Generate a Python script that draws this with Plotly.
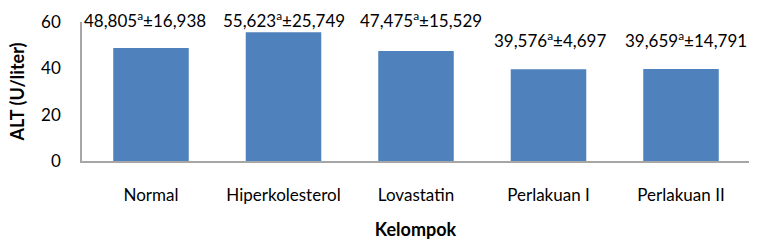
import plotly.graph_objects as go

categories = ["Normal", "Hiperkolesterol", "Lovastatin", "Perlakuan I", "Perlakuan II"]
means = [48.805, 55.623, 47.475, 39.576, 39.659]
sds = [16.938, 25.749, 15.529, 4.697, 14.791]
notation = ["a", "a", "a", "a", "a"]
# label rows in paper coordinates (style only)
label_rows = [1.02, 1.02, 1.02, 0.875, 0.875]
label_dx = [-6, 0, 5, 1, 5]

FONT = "Lato"

fig = go.Figure()
fig.add_trace(go.Bar(
    x=categories, y=means,
    marker=dict(color="#4F81BD", line=dict(width=0)),
    width=0.57,
))

def fmt(v):
    return f"{v:.3f}".replace(".", ",")

for c, m, s, n, ly, dx in zip(categories, means, sds, notation, label_rows, label_dx):
    fig.add_annotation(
        x=c, y=ly, xref="x", yref="paper", xshift=dx,
        text=f"{fmt(m)}<sup>{n}</sup>±{fmt(s)}",
        showarrow=False, yanchor="middle",
        font=dict(family=FONT, size=17, color="#000"),
    )

fig.update_layout(
    width=763, height=240,
    margin=dict(l=82, r=14, t=22, b=79),
    paper_bgcolor="white", plot_bgcolor="white",
    showlegend=False,
    font=dict(family=FONT, size=17, color="#000"),
    xaxis=dict(
        automargin=False,
        showline=True, linecolor="#A6A6A6", linewidth=1.5,
        ticks="", tickfont=dict(size=17), ticklabelstandoff=18,
        title=dict(text="<b>Kelompok</b>", font=dict(size=18), standoff=22),
    ),
    yaxis=dict(
        automargin=False,
        range=[0, 60], tickvals=[0, 20, 40, 60],
        showline=True, linecolor="#A6A6A6", linewidth=1.5,
        showgrid=False, zeroline=False, ticks="",
        tickfont=dict(size=17), ticklabelstandoff=16,
        title=dict(text="<b>ALT (U/liter)</b>", font=dict(size=18), standoff=12),
    ),
)

fig.write_html("out.html")
